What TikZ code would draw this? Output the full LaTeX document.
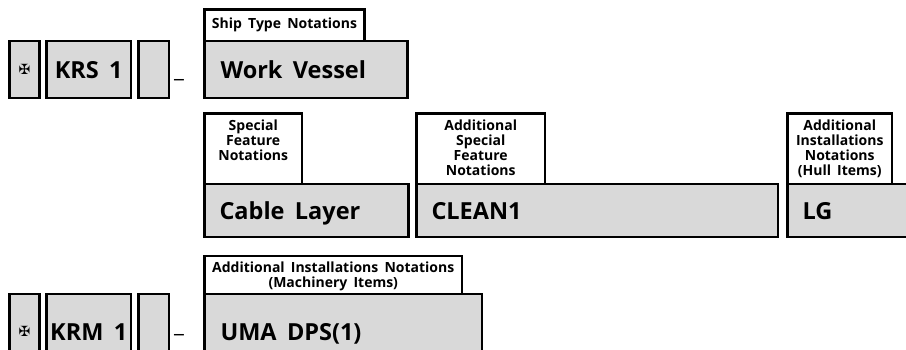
\documentclass[tikz,border=0pt]{standalone}
\usepackage{fontspec}
\setmainfont{Open Sans}[WordSpace=1.7]
\newfontfamily\symfont{DejaVu Sans}
\begin{document}
\begin{tikzpicture}[x=1pt,y=-1pt,
  box/.style={draw=black, line width=2.6pt, fill=gray!30, inner sep=0pt, outer sep=0pt, anchor=north west},
  tagbox/.style={draw=black, line width=2.6pt, fill=white, inner sep=0pt, outer sep=0pt, anchor=north west},
  big/.style={font=\fontsize{23.5}{26}\selectfont\bfseries, inner sep=0pt, outer sep=0pt},
  small/.style={font=\fontsize{14}{15}\selectfont\bfseries, inner sep=0pt, outer sep=0pt, align=center},
  dashmark/.style={font=\fontsize{22}{26}\selectfont, inner sep=0pt, outer sep=0pt, anchor=base},
  crossmark/.style={font=\symfont\fontsize{14}{14}\selectfont, inner sep=0pt}
]
\useasboundingbox (0,0) rectangle (906,350);
\clip (0,0) rectangle (906,350);

% ---------- Row 1 ----------
\node[box, minimum width=30pt, minimum height=57pt] (c1) at (9.5,41) {};
\node[box, minimum width=84.5pt, minimum height=57pt] (krs) at (46.5,41) {};
\node[box, minimum width=30.5pt, minimum height=57pt] (e1) at (138.5,41) {};
\node[tagbox, minimum width=160pt, minimum height=31.5pt] (shiptag) at (204.5,9.5) {};
\node[box, minimum width=203pt, minimum height=57pt] (wv) at (204.5,41) {};

\node[crossmark] (c1t) at (c1.center) {✠};
\node[big, anchor=base] (krst) at ([yshift=-9.5pt]krs.center) {KRS 1};
\node[dashmark] (d1) at (179,78) {\_};
\node[small] (shipt) at (shiptag.center) {Ship Type Notations};
\node[big, anchor=base west] (wvt) at ([xshift=16pt,yshift=-9.5pt]wv.west) {Work Vessel};

% ---------- Row 2 ----------
\node[tagbox, minimum width=97.5pt, minimum height=70.5pt] (sftag) at (204.5,113.5) {};
\node[box, minimum width=204pt, minimum height=53pt] (cable) at (204.5,184) {};
\node[tagbox, minimum width=128.5pt, minimum height=70.5pt] (asftag) at (416.5,113.5) {};
\node[box, minimum width=361.5pt, minimum height=53pt] (clean) at (416.5,184) {};
\node[tagbox, minimum width=104.5pt, minimum height=70.5pt] (lgtag) at (787.5,113.5) {};
\node[box, minimum width=130pt, minimum height=53pt] (lg) at (787.5,184) {};

\node[small, anchor=north] (sft) at ([yshift=-6.5pt]sftag.north) {Special\\Feature\\Notations};
\node[small, anchor=north] (asft) at ([yshift=-6.5pt]asftag.north) {Additional\\Special\\Feature\\Notations};
\node[small, anchor=north] (lgtt) at ([yshift=-6.5pt]lgtag.north) {Additional\\Installations\\Notations\\(Hull Items)};
\node[big, anchor=base west] (cablet) at ([xshift=15pt,yshift=-9.5pt]cable.west) {Cable Layer};
\node[big, anchor=base west] (cleant) at ([xshift=15pt,yshift=-9.5pt]clean.west) {CLEAN1};
\node[big, anchor=base west] (lgt) at ([xshift=15pt,yshift=-9.5pt]lg.west) {LG};

% ---------- Row 3 ----------
\node[box, minimum width=30pt, minimum height=74pt] (c2) at (9.5,294) {};
\node[box, minimum width=84.5pt, minimum height=74pt] (krm) at (46.5,294) {};
\node[box, minimum width=30.5pt, minimum height=74pt] (e2) at (138.5,294) {};
\node[tagbox, minimum width=257.5pt, minimum height=38pt] (aintag) at (204.5,256) {};
\node[box, minimum width=277.5pt, minimum height=74pt] (uma) at (204.5,294) {};

\node[crossmark] (c2t) at (c2.center) {✠};
\node[big, anchor=base] (krmt) at ([yshift=-9.5pt]krm.center) {KRM 1};
\node[dashmark] (d2) at (179,332) {\_};
\node[small, anchor=north] (aint) at ([yshift=-5.5pt]aintag.north) {Additional Installations Notations\\(Machinery Items)};
\node[big, anchor=base west] (umat) at ([xshift=16pt,yshift=-9.5pt]uma.west) {UMA DPS(1)};
\end{tikzpicture}
\end{document}
